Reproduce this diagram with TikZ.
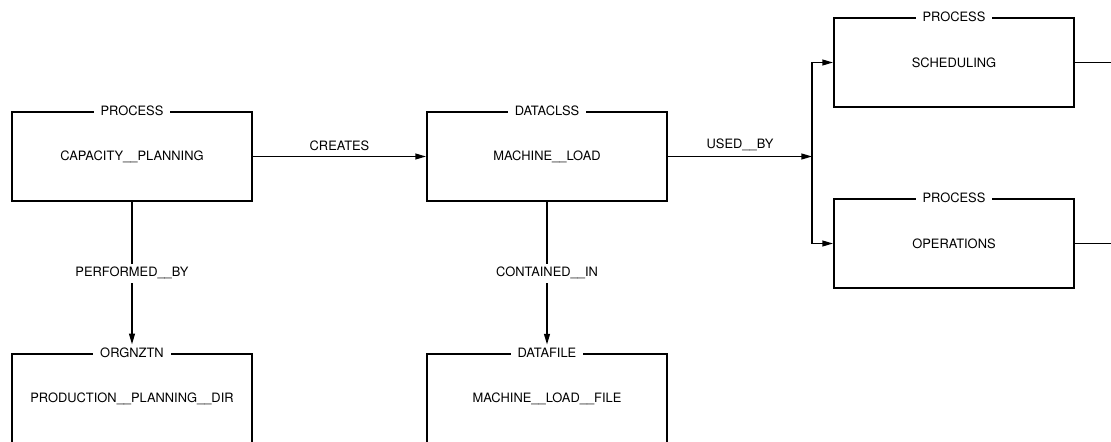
\documentclass[tikz,border=0pt]{standalone}
\usepackage{fontspec}
\setmainfont{TeX Gyre Heros}
\usetikzlibrary{arrows.meta}

\begin{document}
\begin{tikzpicture}[x=0.03cm,y=-0.03cm,
		ent/.style={draw,line width=1.8pt,minimum width=7.2cm,minimum height=2.67cm},
		kind/.style={fill=white,inner xsep=6pt,inner ysep=3pt},
		rel/.style={line width=1.1pt,-{Triangle[length=9pt,width=5pt]}},
		lnode/.style={fill=white,inner sep=3pt}]
	\newcommand*{\lbl}{\fontsize{11}{13}\selectfont}
	\tikzset{every node/.append style={font=\lbl}}
	\useasboundingbox (0,0) rectangle (1111,441);
	% entities
	\node[ent] (cap) at (132,156.5) {CAPACITY\_\_PLANNING};
	\node[ent] (load) at (547,156.5) {MACHINE\_\_LOAD};
	\node[ent] (sched) at (954,62.5) {SCHEDULING};
	\node[ent] (ops) at (954,243.5) {OPERATIONS};
	\node[ent] (prod) at (132,398.5) {PRODUCTION\_\_PLANNING\_\_DIR};
	\node[ent] (file) at (547,398.5) {MACHINE\_\_LOAD\_\_FILE};
	\foreach \n/\k in {cap/PROCESS,load/DATACLSS,sched/PROCESS,ops/PROCESS,prod/ORGNZTN,file/DATAFILE}
		{
			\node[kind] (\n-kind) at (\n.north) {\k};
		}
	% relations
	\coordinate (split) at (812,156.5);
	\coordinate (out) at (1111,0);
	\draw[rel] (cap) -- node[above=1pt] {CREATES} (load);
	\draw[rel] (load) -- node[above=1pt] {USED\_\_BY} (split);
	\draw[rel] (split) |- (sched);
	\draw[rel] (split) |- (ops);
	\draw[line width=1.1pt] (sched.east) -- (sched.east -| out);
	\draw[line width=1.1pt] (ops.east) -- (ops.east -| out);
	\draw[rel] (cap) -- node[lnode] {PERFORMED\_\_BY} (prod-kind);
	\draw[rel] (load) -- node[lnode] {CONTAINED\_\_IN} (file-kind);
\end{tikzpicture}
\end{document}
